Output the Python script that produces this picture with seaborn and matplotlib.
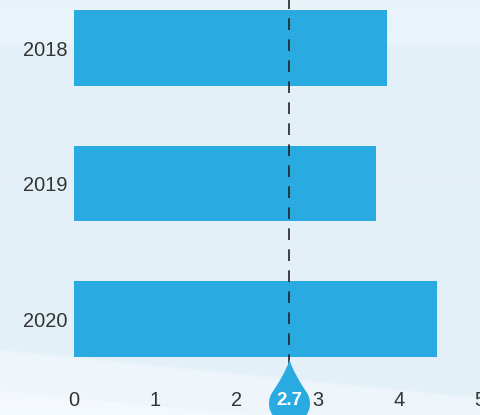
import numpy as np
import pandas as pd
import matplotlib
matplotlib.use("Agg")
import matplotlib.pyplot as plt
import seaborn as sns
from matplotlib.path import Path
from matplotlib.markers import MarkerStyle

# ---- data ----
years = ["2018", "2019", "2020"]
values = [3.85, 3.72, 4.47]
ref_value = 2.65
ref_label = "2.7"
x_ticks = [0, 1, 2, 3, 4, 5]

BAR_COLOR = "#29aae1"

sns.set_theme(style="white")
plt.rcParams["font.family"] = ["Liberation Sans", "DejaVu Sans"]

W, H = 481, 415
fig = plt.figure(figsize=(W / 100, H / 100), dpi=100)

# ---- soft background gradient ----
bg = fig.add_axes([0, 0, 1, 1], zorder=0)
yy, xx = np.mgrid[0:H, 0:W].astype(float)
base = np.array([0xe4, 0xf0, 0xf8]) / 255.0
light = np.array([0xee, 0xf6, 0xfb]) / 255.0
lightest = np.array([0xf4, 0xf9, 0xfd]) / 255.0
top = np.array([0xe9, 0xf3, 0xfa]) / 255.0
img = np.ones((H, W, 3)) * base
f_top = np.clip((48 - yy) / 6, 0, 1)[..., None]
img = img * (1 - f_top) + top * f_top
f1 = np.clip((yy - (348 + 0.1 * xx)) / 4, 0, 1)[..., None]
img = img * (1 - f1) + light * f1
f2 = np.clip((yy - (388 + 0.1 * xx)) / 4, 0, 1)[..., None]
img = img * (1 - f2) + lightest * f2
bg.imshow(img, aspect="auto", extent=(0, W, H, 0), interpolation="bilinear")
bg.axis("off")

# ---- main axes ----
ax = fig.add_axes([74.2 / W, (H - 386.75) / H, 406.0 / W, 406.5 / H], zorder=1)
ax.patch.set_alpha(0)
df = pd.DataFrame({"year": years, "value": values})
sns.barplot(data=df, y="year", x="value", orient="h", color=BAR_COLOR,
            saturation=1, width=0.56, linewidth=0, ax=ax)
ax.set_xlim(0, 5)
ax.set_ylim(len(years) - 0.5, -0.5)
ax.set_xticks(x_ticks)
ax.set_xlabel("")
ax.set_ylabel("")
for s in ax.spines.values():
    s.set_visible(False)
ax.grid(False)
ax.tick_params(axis="both", length=0, labelsize=14.4, labelcolor="#333333")
ax.tick_params(axis="y", pad=4.7)
ax.tick_params(axis="x", pad=3.2)

# reference dashed line
ax.axvline(ref_value, color="#222222", lw=1.2, dashes=(7.0, 5.6), zorder=4)

# teardrop marker
t = np.linspace(np.radians(35), np.radians(-215), 80)
arc = np.column_stack([np.cos(t), np.sin(t)])
tip = (0.0, 2.15)
verts = [tip, (0.1, 1.7), (0.62, 0.86), tuple(arc[0])]
codes = [Path.MOVETO, Path.CURVE4, Path.CURVE4, Path.CURVE4]
for p in arc[1:]:
    verts.append(tuple(p))
    codes.append(Path.LINETO)
verts += [(-0.62, 0.86), (-0.1, 1.7), tip, tip]
codes += [Path.CURVE4, Path.CURVE4, Path.CURVE4, Path.CLOSEPOLY]
drop = MarkerStyle(Path(verts, codes))

r_pt = 20.5 * 0.72
ax.plot([ref_value], [-(403 - 386.75) / 406.5], marker=drop, ms=2 * 2.15 * r_pt,
        color=BAR_COLOR, mew=0, ls="none", transform=ax.get_xaxis_transform(),
        clip_on=False, zorder=5)
ax.text(ref_value, -(400 - 386.75) / 406.5, ref_label, transform=ax.get_xaxis_transform(),
        ha="center", va="center", color="white", fontweight="bold", fontsize=13.5,
        zorder=6, clip_on=False)

fig.savefig("out.png", dpi=100)
